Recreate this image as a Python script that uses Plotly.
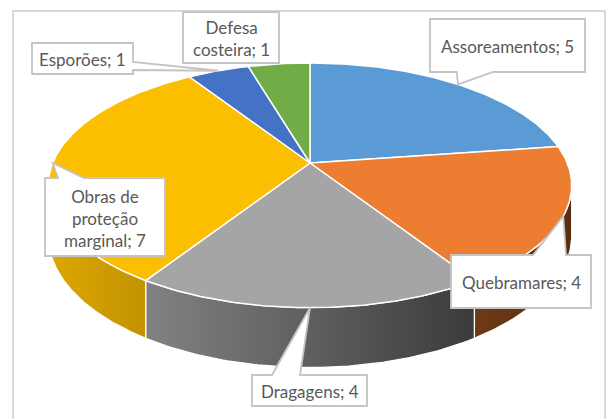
import numpy as np
import plotly.graph_objects as go

# ---- data ----
categories = ["Assoreamentos", "Quebramares", "Dragagens",
              "Obras de<br>proteção<br>marginal", "Esporões", "Defesa<br>costeira"]
values = [5, 4, 4, 7, 1, 1]
top_colors = ["#5b9bd5", "#ed7d31", "#a5a5a5", "#fbbe00", "#4472c4", "#70ad47"]
side_colors = [["#5d8fc4", "#3d6a99"], ["#6e3a17", "#5a2d10"], ["#828282", "#3b3b3b"],
               ["#dea800", "#c29200"], ["#3a62a8", "#2c4c85"], ["#5f9339", "#4a742c"]]

# ---- 3D pie projection (layout constants) ----
W, H = 610, 419
CX, CY = 310.0, 163.0      # pie centre in pixels
S0 = 257.3                 # radius scale at centre depth
K = 0.1827                 # perspective factor
TILT = 0.4596              # vertical squash of the top face
HC = 0.19                  # thickness
VIS0, VIS1 = np.deg2rad(100.5), np.deg2rad(259.5)   # visible wall range


def proj(theta, depth=0.0):
    X, Z = np.sin(theta), np.cos(theta)
    s = S0 / (1 + K * Z)
    return CX + X * s, CY - Z * s * TILT + depth * HC * s


total = float(sum(values))
bounds = np.concatenate([[0.0], np.cumsum(values)]) / total * 2 * np.pi

fig = go.Figure()

# side walls
for i in range(len(values)):
    a0, a1 = max(bounds[i], VIS0), min(bounds[i + 1], VIS1)
    if a1 <= a0:
        continue
    t = np.linspace(a0, a1, 80)
    xt, yt = proj(t, 0)
    xb, yb = proj(t[::-1], 1)
    fig.add_trace(go.Scatter(
        x=np.concatenate([xt, xb, xt[:1]]), y=np.concatenate([yt, yb, yt[:1]]),
        mode="lines", fill="toself",
        fillgradient=dict(type="horizontal",
                          colorscale=[[0, side_colors[i][0]], [1, side_colors[i][1]]]),
        line=dict(color="white", width=1.3), hoverinfo="skip", showlegend=False))

# top faces
for i in range(len(values)):
    t = np.linspace(bounds[i], bounds[i + 1], 120)
    xs, ys = proj(t, 0)
    fig.add_trace(go.Scatter(
        x=np.concatenate([[CX], xs, [CX]]), y=np.concatenate([[CY], ys, [CY]]),
        mode="lines", fill="toself", fillcolor=top_colors[i],
        line=dict(color="white", width=1.5), hoverinfo="skip", showlegend=False))

# ---- data labels (callouts) ----
label_boxes = [  # x0, y0, x1, y1, tail side, tail base a, b
    (430, 19, 585, 72, "bottom", 456.7, 493),
    (451, 255, 591, 308, "top", 533, 566),
    (252, 375, 367, 406, "top", 272, 300),
    (45, 178, 165, 256, "top", 58, 84),
    (32, 43, 133, 74, "right", 62, 70),
    (183, 12, 279, 63, None, 0, 0),
]

shapes = [dict(type="rect", xref="x", yref="y", x0=13, y0=11, x1=605, y1=440,
               line=dict(color="#d9d9d9", width=2), fillcolor="rgba(0,0,0,0)", layer="below")]
annotations = []
for i, (x0, y0, x1, y1, side, a, b) in enumerate(label_boxes):
    mid = (bounds[i] + bounds[i + 1]) / 2
    px, py = proj(mid, 0)
    pts = [(x0, y0)]
    if side == "top":
        pts += [(a, y0), (px, py), (b, y0)]
    pts += [(x1, y0)]
    if side == "right":
        pts += [(x1, a), (px, py), (x1, b)]
    pts += [(x1, y1)]
    if side == "bottom":
        pts += [(b, y1), (px, py), (a, y1)]
    pts += [(x0, y1)]
    path = "M " + " L ".join(f"{p[0]:.2f},{p[1]:.2f}" for p in pts) + " Z"
    shapes.append(dict(type="path", xref="x", yref="y", path=path,
                       fillcolor="white", line=dict(color="#c4c4c4", width=1.8), layer="above"))
    annotations.append(dict(x=(x0 + x1) / 2, y=(y0 + y1) / 2 + 1, xref="x", yref="y",
                            text=f"{categories[i]}; {values[i]}", showarrow=False,
                            font=dict(family="Lato", size=17, color="#595959"),
                            align="center", xanchor="center", yanchor="middle"))

fig.update_layout(
    width=W, height=H, margin=dict(l=0, r=0, t=0, b=0),
    paper_bgcolor="white", plot_bgcolor="white",
    xaxis=dict(range=[0, W], visible=False, fixedrange=True),
    yaxis=dict(range=[H, 0], visible=False, fixedrange=True),
    shapes=shapes, annotations=annotations, showlegend=False,
)

fig.write_html("out.html", config={"displayModeBar": False},
               post_script="document.body.style.margin='0';")
